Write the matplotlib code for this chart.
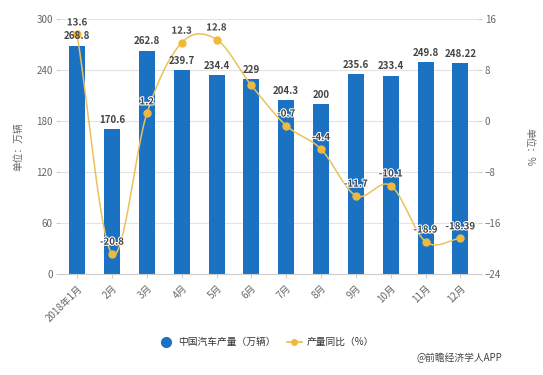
import matplotlib
matplotlib.use("Agg")
import matplotlib.pyplot as plt
import numpy as np
import matplotlib.patheffects as pe
from matplotlib.lines import Line2D

plt.rcParams['font.family'] = ['Noto Sans CJK SC', 'DejaVu Sans']

months = ["2018年1月", "2月", "3月", "4月", "5月", "6月", "7月", "8月", "9月", "10月", "11月", "12月"]
production = [268.8, 170.6, 262.8, 239.7, 234.4, 229, 204.3, 200, 235.6, 233.4, 249.8, 248.22]
prod_labels = ["268.8", "170.6", "262.8", "239.7", "234.4", "229", "204.3", "200", "235.6", "233.4", "249.8", "248.22"]
yoy = [13.6, -20.8, 1.2, 12.3, 12.8, 5.6, -0.7, -4.4, -11.7, -10.1, -18.9, -18.39]
yoy_labels = ["13.6", "-20.8", "1.2", "12.3", "12.8", "", "-0.7", "-4.4", "-11.7", "-10.1", "-18.9", "-18.39"]
left_ticks = [0, 60, 120, 180, 240, 300]
right_ticks = [-24, -16, -8, 0, 8, 16]

BAR = "#1c72c2"
LINE = "#e9c25a"
MARK = "#f0b93c"
GRID = "#e3e3e3"
TXT = "#666666"

fig = plt.figure(figsize=(5.43, 3.75), dpi=100)
ax = fig.add_axes([0.110, 0.269, 0.770, 0.680])
ax2 = ax.twinx()

x = np.arange(len(months))
ax.bar(x, production, width=0.46, color=BAR, zorder=2)
ax.set_xlim(-0.5, len(months) - 0.5)
ax.set_ylim(0, 300)
ax.set_yticks(left_ticks)
ax.yaxis.grid(True, color=GRID, linewidth=0.8, zorder=0)
ax.set_axisbelow(True)
for s in ["top", "right", "left"]:
    ax.spines[s].set_visible(False)
ax.spines["bottom"].set_color("#cccccc")
ax.tick_params(axis="y", colors="#cccccc", labelcolor=TXT, labelsize=7, length=3, pad=2)
ax.tick_params(axis="x", colors="#cccccc", labelcolor=TXT, labelsize=7, length=3)
ax.set_xticks(x)
ax.set_xticklabels(months, rotation=45, ha="right", rotation_mode="anchor")
ax.set_ylabel("单位：万辆", fontsize=7, color=TXT, labelpad=9)

# smooth line (Catmull-Rom through data points)
pts = np.column_stack([x, yoy]).astype(float)
P = np.vstack([pts[0] - (pts[1] - pts[0]), pts, pts[-1] + (pts[-1] - pts[-2])])
curve = []
t = np.linspace(0, 1, 30)
for i in range(1, len(P) - 2):
    p0, p1, p2, p3 = P[i - 1], P[i], P[i + 1], P[i + 2]
    for tt in t:
        c = 0.5 * ((2 * p1) + (-p0 + p2) * tt + (2 * p0 - 5 * p1 + 4 * p2 - p3) * tt ** 2 + (-p0 + 3 * p1 - 3 * p2 + p3) * tt ** 3)
        curve.append(c)
curve = np.array(curve)
ax2.plot(curve[:, 0], curve[:, 1], color=LINE, linewidth=1.1, zorder=3)
ax2.plot(x, yoy, linestyle="none", marker="o", markersize=5, color=MARK, zorder=4)
ax2.set_ylim(-24, 16)
ax2.set_yticks(right_ticks)
for s in ["top", "right", "left", "bottom"]:
    ax2.spines[s].set_visible(False)
ax2.tick_params(axis="y", colors="#cccccc", labelcolor=TXT, labelsize=7, length=3, pad=2)
ax2.set_ylabel("单位：%", fontsize=7, color=TXT, rotation=270, labelpad=24)

# bar labels (drawn on top of the line)
for xi, v, lab in zip(x, production, prod_labels):
    ax2.text(xi, v + 5, lab, transform=ax.transData, ha="center", va="bottom", fontsize=7,
             fontweight="bold", color="#444444", zorder=6)

for xi, v, lab in zip(x, yoy, yoy_labels):
    if lab:
        ax2.text(xi, v + 1.1, lab, ha="center", va="bottom", fontsize=7, fontweight="bold", color="#444444",
                 zorder=7, path_effects=[pe.withStroke(linewidth=1.5, foreground="white")])

# legend
handles = [Line2D([0], [0], marker="o", color="none", markerfacecolor=BAR, markeredgecolor=BAR, markersize=7),
           Line2D([0], [0], marker="o", color=LINE, markerfacecolor=MARK, markeredgecolor=MARK, markersize=4, linewidth=1.3)]
fig.legend(handles, ["中国汽车产量（万辆）", "产量同比（%）"], loc="center", bbox_to_anchor=(0.49, 0.088),
           ncol=2, frameon=False, fontsize=7, handlelength=1.5, handletextpad=0.5, columnspacing=1.2,
           labelcolor="#333333")
fig.text(0.925, 0.045, "@前瞻经济学人APP", ha="right", va="center", fontsize=7, color="#444444")

fig.savefig("out.png", dpi=100)
